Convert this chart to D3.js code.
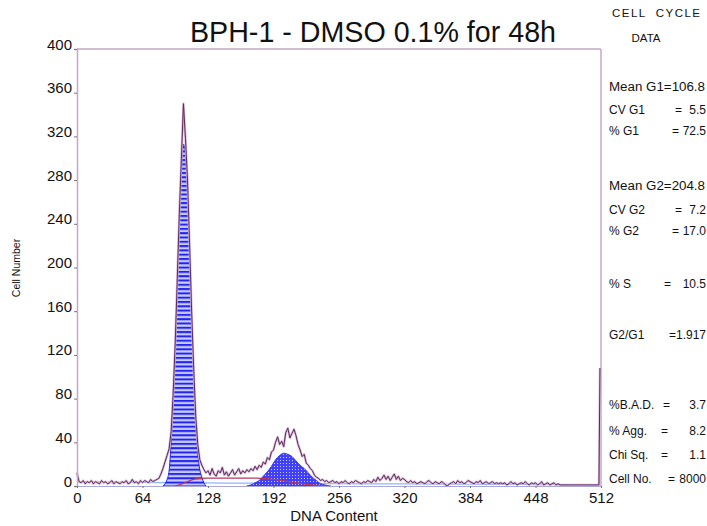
<!DOCTYPE html>
<html>
<head>
<meta charset="utf-8">
<script src="https://cdn.jsdelivr.net/npm/d3@7/dist/d3.min.js"></script>
<style>
  html, body { margin: 0; padding: 0; background: #fff; }
  svg { display: block; }
  text { font-family: "Liberation Sans", Arial, sans-serif; fill: #111; }
</style>
</head>
<body>
<svg id="chart" width="707" height="526"></svg>
<script>
// ---------------- DATA ----------------
const title = "BPH-1 - DMSO 0.1% for 48h";
const xTicks = [0, 64, 128, 192, 256, 320, 384, 448, 512];
const yTicks = [0, 40, 80, 120, 160, 200, 240, 280, 320, 360, 400];
const xLabel = "DNA Content";
const yLabel = "Cell Number";

// raw histogram: one value per 2 channels, starting at channel 0
const rawStep = 2;
const rawCounts = [
  12,4,3,5,2,4,3,5,2,4,3,2,5,3,4,2,
  3,5,2,4,3,2,4,3,5,2,3,6,3,4,2,5,
  3,5,4,3,6,4,5,6,7,11,16,22,28,34,50,85,
  132,190,250,300,350,318,280,222,160,108,64,38,24,19,15,12,
  14,10,16,11,9,14,12,17,10,13,9,12,15,10,13,16,
  11,14,12,15,13,16,14,18,15,19,17,22,20,26,24,31,
  33,40,45,38,41,36,49,53,44,48,52,46,38,33,27,29,
  21,19,16,14,10,8,7,5,6,4,5,3,4,5,3,4,
  2,4,3,5,3,2,4,3,5,4,3,2,4,3,5,4,
  3,6,4,8,5,7,10,6,9,5,8,11,6,9,5,7,
  6,4,3,5,3,4,2,3,4,3,2,4,5,3,2,4,
  3,2,4,3,1,0,2,3,4,2,5,3,4,2,3,5,
  4,3,2,4,3,5,2,3,4,2,3,4,2,3,2,3,
  2,3,1,2,4,2,3,1,2,3,2,4,2,1,3,2,
  3,1,2,4,1,2,3,1,2,3,1,2,1,1,1,1,
  1,1,1,1,1,1,1,1,1,1,1,1,1,1,1,1
];
const lastChannel = 511;
const lastChannelCount = 108;

// G1 fitted peak
const g1Channels = [84,86,88,90,92,94,96,98,100,102,104,106,108,110,112,114,116,118,120,122,124,126];
const g1Fit      = [0,2,6,14,40,76,124,182,240,288,313,304,268,214,154,100,58,30,15,8,3,0];

// G2 fitted peak
const g2Channels = [166,170,174,178,182,186,190,194,198,202,206,210,214,218,222,226,230,234,238,242,246];
const g2Fit      = [0,1,3,5,9,13,18,24,28,30,29,27,23,19,16,12,8,5,2,1,0];

// S-phase fit
const sChannels = [96,100,104,108,112,116,120,128,144,160,176,184,192,200,208,216,224,232,240,248];
const sFit      = [0,1,2.5,4,5.5,6.5,7,7.3,7.3,7.3,7.2,6.8,6,5,3.8,2.6,1.5,0.8,0.3,0];

// debris background fit
const debrisChannels = [0,32,64,96,128,160,192,224,256,288,320,352,384,416,448,480,511];
const debrisFit      = [4,3.5,3.2,3,2.8,2.6,2.5,2.3,2.2,2,2,1.8,1.6,1.5,1.3,1.2,1];

// statistics panel
const panelHeader = ["CELL  CYCLE", "DATA"];
const statLabels = ["Mean G1=106.8","CV G1","% G1","Mean G2=204.8","CV G2","% G2","% S","G2/G1","%B.A.D.","% Agg.","Chi Sq.","Cell No."];
const statEquals = ["","=","=","","=","=","=","","=","=","=","="];
const statValues = ["","5.5","72.5","","7.2","17.0","10.5","=1.917","3.7","8.2","1.1","8000"];

// ---------------- LAYOUT ----------------
const plot = {left: 77, right: 601, top: 49, bottom: 486};
const svg = d3.select("#chart");

const x = d3.scaleLinear().domain([0, 512]).range([plot.left, plot.right]);
const y = d3.scaleLinear().domain([0, 400]).range([plot.bottom, plot.top]);

// patterns
const defs = svg.append("defs");
const p1 = defs.append("pattern").attr("id", "hatchG1")
  .attr("patternUnits", "userSpaceOnUse").attr("width", 6).attr("height", 4.3);
p1.append("rect").attr("width", 6).attr("height", 4.3).attr("fill", "#c6cbff");
p1.append("rect").attr("y", 0).attr("width", 6).attr("height", 2).attr("fill", "#2424ee");

const p2 = defs.append("pattern").attr("id", "dotsG2")
  .attr("patternUnits", "userSpaceOnUse").attr("width", 3).attr("height", 3);
p2.append("rect").attr("width", 3).attr("height", 3).attr("fill", "#4040fa");
p2.append("rect").attr("x", 1).attr("y", 1).attr("width", 1).attr("height", 1).attr("fill", "#d0d4ff");

// frame
const frameColor = "#c4a8c8";
svg.append("line").attr("x1", plot.left).attr("x2", plot.right).attr("y1", plot.top).attr("y2", plot.top)
  .attr("stroke", frameColor).attr("stroke-width", 1.5);
svg.append("line").attr("x1", plot.right).attr("x2", plot.right).attr("y1", plot.top).attr("y2", plot.bottom)
  .attr("stroke", frameColor).attr("stroke-width", 1.5);

// debris background
svg.append("path")
  .datum(debrisChannels.map((c, i) => [c, debrisFit[i]]))
  .attr("fill", "none").attr("stroke", "#8fb4ff").attr("stroke-width", 1.2)
  .attr("d", d3.line().x(d => x(d[0])).y(d => y(d[1])).curve(d3.curveMonotoneX));

// G1 fill
svg.append("path")
  .datum(g1Channels.map((c, i) => [c, g1Fit[i]]))
  .attr("fill", "url(#hatchG1)").attr("stroke", "#2020e8").attr("stroke-width", 1)
  .attr("d", d3.area().x(d => x(d[0])).y0(y(0)).y1(d => y(d[1])).curve(d3.curveMonotoneX));

// G2 fill
svg.append("path")
  .datum(g2Channels.map((c, i) => [c, g2Fit[i]]))
  .attr("fill", "url(#dotsG2)").attr("stroke", "#3434f0").attr("stroke-width", 1)
  .attr("d", d3.area().x(d => x(d[0])).y0(y(0)).y1(d => y(d[1])).curve(d3.curveMonotoneX));

// S-phase
svg.append("path")
  .datum(sChannels.map((c, i) => [c, sFit[i]]))
  .attr("fill", "none").attr("stroke", "#b8385e").attr("stroke-width", 1.3)
  .attr("d", d3.line().x(d => x(d[0])).y(d => y(d[1])).curve(d3.curveMonotoneX));

// raw histogram
const rawPts = rawCounts.map((v, i) => [i * rawStep, v]);
rawPts.push([lastChannel, lastChannelCount]);
const rawLine = d3.line().x(d => x(d[0])).y(d => y(d[1]));
svg.append("path").datum(rawPts)
  .attr("fill", "none").attr("stroke", "#d6bad6").attr("stroke-width", 2.4).attr("stroke-linejoin", "round")
  .attr("d", rawLine);
svg.append("path").datum(rawPts)
  .attr("fill", "none").attr("stroke", "#5e2a5c").attr("stroke-width", 1).attr("stroke-linejoin", "round")
  .attr("d", rawLine);

// axes
const yAxis = svg.append("g").attr("transform", `translate(${plot.left},0)`)
  .call(d3.axisLeft(y).tickValues(yTicks).tickSize(3).tickPadding(2));
yAxis.select(".domain").attr("stroke", frameColor).attr("stroke-width", 1.5);
yAxis.selectAll(".tick line").attr("stroke", "#777");
yAxis.selectAll(".tick text").attr("dy", "0").style("font-size", "15px").attr("fill", "#111");

const xAxis = svg.append("g").attr("transform", `translate(0,${plot.bottom})`)
  .call(d3.axisBottom(x).tickValues(xTicks).tickSize(2).tickPadding(4));
xAxis.select(".domain").attr("stroke", "#a8a8d8").attr("stroke-width", 1.2);
xAxis.selectAll(".tick line").attr("stroke", "#777");
xAxis.selectAll(".tick text").style("font-size", "15px").attr("fill", "#111");

// axis labels
svg.append("text").attr("x", x(256) - 5).attr("y", 521).attr("text-anchor", "middle")
  .style("font-size", "15px").text(xLabel);
svg.append("text").attr("transform", "translate(20,268) rotate(-90)").attr("text-anchor", "middle")
  .style("font-size", "10.5px").text(yLabel);

// title
svg.append("text").attr("x", 190).attr("y", 42)
  .attr("textLength", 366).attr("lengthAdjust", "spacingAndGlyphs")
  .style("font-size", "29px").text(title);

// stats panel
svg.append("text").attr("x", 612).attr("y", 17)
  .attr("textLength", 88).attr("lengthAdjust", "spacing")
  .style("font-size", "11.5px").style("white-space", "pre").attr("xml:space", "preserve").text(panelHeader[0]);
svg.append("text").attr("x", 646).attr("y", 42).attr("text-anchor", "middle")
  .style("font-size", "11.5px").text(panelHeader[1]);

const statY  = [91,114,135,190,214,235,288,339,409,435,459,483];
const statEqX = [0,675,672,0,675,672,664,0,663,661,661,668];
statLabels.forEach((lab, i) => {
  const t = svg.append("text").attr("x", 609).attr("y", statY[i]).style("font-size", "12px").text(lab);
  if (!statValues[i]) t.attr("textLength", 96).attr("lengthAdjust", "spacingAndGlyphs");
  if (statEquals[i]) {
    svg.append("text").attr("x", statEqX[i]).attr("y", statY[i]).style("font-size", "12px").text(statEquals[i]);
  }
  if (statValues[i]) {
    svg.append("text").attr("x", 706).attr("y", statY[i]).attr("text-anchor", "end")
      .style("font-size", "12px").text(statValues[i]);
  }
});
</script>
</body>
</html>
